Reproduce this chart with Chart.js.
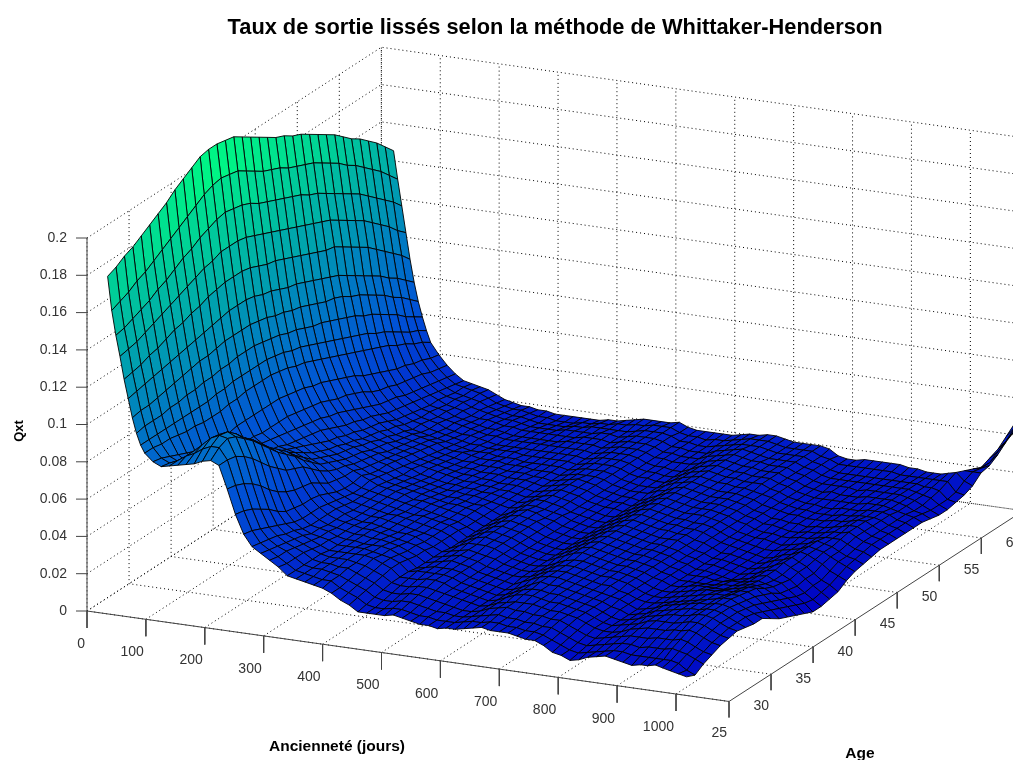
<!DOCTYPE html>
<html>
<head>
<meta charset="utf-8">
<title>Taux de sortie</title>
<script src="https://cdn.jsdelivr.net/npm/chart.js@4"></script>
<style>
  html, body { margin: 0; background: #fff; }
  canvas { display: block; }
</style>
</head>
<body>
<canvas id="surface" width="1013" height="760"></canvas>
<script>
const titleText = 'Taux de sortie lissés selon la méthode de Whittaker-Henderson';
const xTicks = [0, 100, 200, 300, 400, 500, 600, 700, 800, 900, 1000];
const ageTicks = [25, 30, 35, 40, 45, 50, 55, 60];
const zTicks = [0, 0.02, 0.04, 0.06, 0.08, 0.1, 0.12, 0.14, 0.16, 0.18, 0.2];
const xMax = 1090;
const ageMax = 60;
const zMax = 0.2;

// anciennete of each row of qxtMilli, ages are one year apart starting at 25
const anciennete = [35, 42, 49, 56, 63, 70, 77, 84, 91, 98, 112, 126, 140, 154, 168, 182, 196, 210, 224, 238, 252, 266, 280,
  295, 310, 325, 340, 355, 370, 385, 400, 415, 430, 445, 460, 475, 490, 505, 520, 535, 550, 565, 580, 595, 610, 625, 640, 655,
  670, 685, 700, 715, 730, 745, 760, 775, 790, 805, 820, 835, 850, 865, 880, 895, 910, 925, 940, 952, 965, 977, 990, 1004, 1018];
const firstAge = 25;

// Qxt x 1000
const qxtMilli = [
  [181,183,186,188,191,194,197,200,204,207,210,213,214,214,213,212,209,206,203,200,197,195,192,190,187,184,181,178,174,170,167,163,159,154,149],
  [163,165,167,170,172,175,178,181,184,187,190,193,195,196,195,194,191,188,185,183,181,178,176,174,172,169,166,163,159,156,152,148,144,139,134],
  [150,151,153,155,157,160,162,165,168,170,173,175,177,178,177,176,174,171,169,167,165,163,161,158,156,153,150,147,144,141,137,133,129,125,120],
  [139,140,141,143,145,147,149,151,153,155,157,158,160,160,160,159,157,155,153,151,149,147,145,143,141,139,136,133,130,127,123,119,115,110,106],
  [127,128,129,131,132,134,136,137,139,140,142,143,144,144,144,143,141,139,138,136,134,132,130,128,126,125,122,119,116,113,109,105,101,97,92],
  [117,118,119,120,121,122,123,124,125,126,127,128,129,129,129,128,126,125,123,121,120,118,116,114,112,110,107,104,101,98,95,91,88,84,80],
  [107,108,108,109,110,111,112,113,114,114,115,116,116,116,116,115,114,112,111,109,108,106,104,102,101,99,96,94,91,88,85,81,78,74,70],
  [99,100,100,100,101,101,102,102,103,103,104,104,105,105,105,104,103,102,100,99,97,95,94,92,90,88,86,83,81,78,75,72,68,65,62],
  [93,93,93,93,93,93,93,93,93,94,94,95,95,95,95,95,94,93,91,90,88,86,84,82,80,78,76,74,71,69,66,63,60,58,55],
  [89,89,88,88,87,86,86,85,85,85,86,86,87,87,87,87,86,85,83,82,80,78,76,74,72,70,68,66,64,62,59,57,54,52,49],
  [85,84,82,80,78,76,74,74,74,74,75,75,75,75,75,75,74,73,72,70,69,67,65,63,61,58,56,54,52,50,49,47,46,44,43],
  [83,82,80,77,74,72,70,69,68,67,67,67,66,66,66,66,65,64,63,62,60,58,57,55,53,50,48,47,45,44,43,42,40,39,38],
  [84,84,83,80,77,75,73,70,68,66,65,64,63,62,61,60,59,58,57,55,54,52,50,48,46,44,43,42,40,39,38,37,36,35,34],
  [85,87,87,85,82,79,75,72,69,66,63,61,60,58,57,56,55,54,52,50,48,47,45,44,42,40,39,38,37,36,35,34,33,32,31],
  [86,89,91,89,86,82,78,74,70,67,64,61,59,57,55,53,51,49,48,46,45,43,42,41,39,37,36,35,34,33,33,32,31,31,30],
  [87,92,95,94,90,85,81,76,72,68,64,61,58,55,52,50,48,47,45,44,42,41,40,38,37,35,34,33,33,32,31,31,30,30,29],
  [89,94,97,96,92,87,83,78,73,69,65,60,56,52,50,48,46,45,44,42,41,39,38,36,35,33,33,32,31,31,30,30,29,29,28],
  [90,94,96,94,90,86,81,76,71,67,63,58,54,50,48,46,44,43,42,40,39,38,36,35,34,32,31,31,30,29,29,28,28,27,26],
  [88,88,87,84,80,75,70,66,62,60,58,54,50,47,45,44,42,41,40,39,37,36,35,34,33,31,30,29,29,28,27,27,26,25,24],
  [76,75,73,70,66,61,57,54,52,51,50,47,44,43,42,42,40,39,38,37,36,35,34,33,32,30,29,28,28,27,26,26,25,24,23],
  [63,62,60,57,54,50,47,46,45,45,44,42,40,39,39,40,38,37,37,36,35,34,33,32,31,29,28,27,27,26,26,25,24,23,22],
  [53,52,50,48,46,44,42,41,41,41,40,39,38,37,37,38,37,36,35,34,33,32,31,30,29,28,27,27,26,25,25,24,23,23,22],
  [47,46,45,44,42,41,39,38,38,38,38,37,36,36,36,36,35,34,33,33,32,31,30,29,28,27,26,26,25,25,24,24,23,22,21],
  [44,43,42,41,40,39,37,37,36,36,36,35,35,35,35,35,34,33,32,31,31,30,29,28,28,26,26,25,25,24,24,23,22,21,21],
  [41,40,40,39,38,37,36,36,35,35,34,34,34,34,34,34,33,32,31,30,30,29,28,27,27,26,25,24,24,23,23,22,21,21,20],
  [38,37,37,37,36,35,35,34,34,34,33,33,33,33,33,33,32,31,30,29,29,28,27,27,26,26,25,24,24,23,23,22,21,20,20],
  [34,34,34,34,34,33,33,33,33,33,33,33,32,32,32,31,31,30,29,28,28,27,27,26,26,25,25,24,24,23,23,22,21,20,20],
  [33,33,33,33,33,33,33,33,33,33,32,32,32,31,31,31,30,29,28,28,27,27,26,26,26,25,25,24,24,23,23,22,21,20,20],
  [32,32,33,33,33,33,33,32,32,32,31,31,31,30,30,30,29,28,28,27,27,26,26,26,25,25,24,24,24,23,23,23,22,21,20],
  [31,31,32,32,33,33,33,32,32,31,30,30,30,30,29,29,28,28,27,27,26,26,26,25,25,24,24,24,24,23,23,23,22,21,20],
  [30,31,31,32,32,33,32,32,31,30,30,29,29,29,28,28,28,27,27,26,26,25,25,25,25,24,24,24,24,24,23,23,23,22,21],
  [28,28,29,30,31,32,31,31,30,29,29,28,28,28,27,27,27,26,26,26,25,25,25,25,24,24,24,24,24,24,24,23,23,22,21],
  [25,26,27,28,29,30,30,29,28,28,27,27,27,27,26,26,26,26,25,25,25,25,25,24,24,24,24,24,24,24,24,24,23,23,22],
  [23,24,25,26,27,28,28,27,26,26,25,25,25,25,24,24,24,24,24,24,24,24,24,24,24,24,24,24,24,24,24,24,23,23,23],
  [20,21,22,23,24,24,24,23,23,23,23,22,22,22,22,22,22,22,23,23,23,23,23,23,23,23,23,23,23,23,23,23,23,24,24],
  [20,20,21,22,23,24,25,24,24,24,24,24,24,24,24,24,24,24,24,24,24,24,24,24,24,24,24,24,24,24,24,24,24,24,24],
  [20,20,21,22,23,24,25,25,25,25,25,26,26,26,26,26,26,26,26,26,25,25,25,25,25,25,25,25,25,25,25,25,25,25,24],
  [20,21,22,23,24,25,25,25,26,26,26,26,27,27,27,27,27,27,26,26,26,26,26,26,25,25,25,25,25,25,25,25,25,25,24],
  [21,21,22,23,24,25,25,25,25,25,25,26,26,26,26,26,26,26,25,25,25,25,25,25,25,25,25,25,25,25,25,25,25,25,25],
  [20,20,21,22,23,24,24,24,24,24,24,25,25,25,25,25,25,24,24,24,24,24,24,24,24,24,24,24,24,24,24,24,24,23,23],
  [19,19,20,21,22,22,22,22,22,22,23,23,23,23,23,23,23,23,23,22,22,22,22,22,22,22,22,22,22,22,22,22,22,22,22],
  [18,19,19,20,21,21,21,21,21,21,21,21,21,21,21,21,21,21,21,21,21,21,21,21,21,21,21,21,21,22,22,22,22,22,22],
  [18,18,19,19,20,20,20,20,20,20,20,20,20,20,20,20,20,20,20,20,20,20,20,20,20,20,21,21,21,21,21,21,21,21,22],
  [17,18,18,18,19,19,19,19,19,19,19,19,19,19,19,19,19,19,19,19,19,20,20,20,20,20,20,20,20,21,21,21,21,22,22],
  [18,18,18,18,18,18,18,18,18,19,19,19,19,19,19,19,19,19,19,19,19,19,19,19,20,20,20,20,20,21,21,21,22,22,22],
  [18,19,19,19,19,19,19,19,20,20,20,20,21,21,21,21,21,21,21,21,21,21,21,21,22,22,22,22,22,22,23,23,23,23,23],
  [19,20,20,21,21,21,21,21,22,22,22,22,23,23,23,23,23,23,23,23,23,23,23,23,23,24,24,24,24,24,24,24,24,24,24],
  [20,20,21,22,22,23,23,23,24,24,24,24,25,25,25,25,25,25,25,25,25,25,25,25,25,25,25,25,25,25,25,25,25,25,24],
  [21,21,22,23,23,24,24,25,25,25,25,25,26,26,26,26,26,26,26,26,26,26,26,26,26,26,26,26,26,26,26,26,25,25,25],
  [20,21,21,22,23,24,24,24,25,25,25,25,25,25,25,25,25,25,25,25,25,25,25,25,25,25,25,25,25,25,25,25,25,25,25],
  [20,20,21,22,23,23,23,24,24,24,24,24,24,24,24,24,24,24,24,24,24,24,24,24,24,24,24,24,24,24,24,24,24,24,24],
  [20,20,20,21,22,22,23,23,23,23,23,23,23,23,23,23,23,23,23,23,23,23,23,23,23,23,24,24,24,24,24,23,23,23,23],
  [19,19,20,21,21,22,22,22,22,22,22,22,22,22,22,22,22,22,23,23,23,23,23,23,23,23,23,23,23,23,23,23,23,23,23],
  [18,19,19,20,21,21,21,21,21,21,22,22,22,22,22,22,22,22,22,22,22,23,23,23,23,23,23,23,23,23,23,23,23,23,23],
  [18,18,19,20,20,20,20,20,20,21,21,21,21,21,21,21,21,22,22,22,22,22,22,22,22,22,22,23,23,23,23,23,23,23,23],
  [16,16,17,18,19,19,19,19,19,19,20,20,20,20,20,20,20,20,20,21,21,21,21,21,21,21,21,21,21,21,21,21,21,21,22],
  [13,14,15,16,17,17,17,17,18,18,18,18,18,18,18,18,18,18,19,19,19,19,19,19,19,19,20,20,20,20,20,20,20,20,19],
  [12,12,13,14,15,15,15,16,16,16,16,16,17,17,17,17,17,17,17,17,17,17,18,18,18,18,18,18,18,18,18,18,18,18,18],
  [10,11,12,13,14,14,14,14,14,15,15,15,15,15,15,15,15,15,15,16,16,16,16,16,16,17,17,17,17,17,17,17,17,18,18],
  [11,12,13,14,14,15,15,15,15,15,15,15,15,15,15,15,15,15,15,15,15,15,15,16,16,16,16,16,16,16,17,17,17,18,19],
  [13,13,14,15,15,16,16,16,16,16,16,16,16,15,15,14,14,14,14,14,14,15,15,15,15,16,16,16,16,17,17,17,17,18,19],
  [14,14,15,16,17,17,18,18,18,17,17,17,17,15,14,13,13,13,13,13,13,14,14,14,15,15,15,15,16,16,17,17,17,18,19],
  [15,15,16,17,18,19,19,19,19,18,18,18,17,15,14,12,12,12,12,12,13,13,14,14,14,15,15,15,16,16,16,17,17,18,19],
  [14,15,16,17,19,20,20,20,20,19,19,19,17,16,15,13,13,13,13,13,14,14,15,15,15,15,15,16,16,16,17,17,17,18,19],
  [13,14,15,17,19,20,21,21,21,20,20,19,17,16,15,14,14,14,15,15,15,15,15,15,15,16,16,16,16,17,17,17,17,17,18],
  [12,14,16,18,19,20,21,22,22,21,21,20,18,17,16,16,16,16,16,16,16,16,16,16,16,16,16,16,17,17,17,17,17,17,18],
  [13,14,16,18,20,21,22,22,22,22,21,20,19,18,17,17,17,18,18,18,18,18,17,17,17,17,17,17,17,17,17,17,17,17,17],
  [13,14,16,18,20,22,23,23,23,23,22,21,20,18,16,15,15,16,16,17,17,17,17,17,18,18,17,17,17,17,17,17,17,17,17],
  [14,14,17,19,21,22,23,23,23,23,22,21,20,17,15,14,13,14,14,15,16,16,17,18,18,18,17,17,16,16,16,16,16,17,17],
  [13,14,16,18,20,21,22,22,22,21,20,19,17,15,12,11,10,11,11,13,14,14,15,16,16,16,16,16,15,15,15,15,16,17,18],
  [12,13,15,16,18,19,20,20,20,19,18,16,14,12,10,8,7,8,8,10,12,12,13,14,14,14,14,14,14,13,13,14,15,17,19,17,15,13,15,17,21,25],
  [11,10,13,14,16,17,18,18,18,17,15,13,11,9,7,5,4,5,6,8,10,11,12,13,13,13,13,13,13,12,11,11,11,12,15,17,16,16,19,22,26,29],
  [10,8,11,13,15,16,17,16,15,15,12,9,7,5,3,1,1,2,3,6,8,9,10,11,11,11,11,11,11,10,9,9,10,11,13,17,18,21,25,28,31,33]
];

// axes of the box as seen in the picture: pixels per day, per year, per unit of Qxt
function project(x, age, z) {
  return {
    x: 87 + 0.589 * x + 8.41 * (age - firstAge),
    y: 611 + 0.083 * x - 5.45 * (age - firstAge) - 1865 * z
  };
}

function lineSet(points, color, dash) {
  return {
    data: points,
    showLine: true,
    fill: false,
    borderColor: color,
    borderWidth: 1,
    borderDash: dash || [],
    pointRadius: 0
  };
}

// winter colormap, deeper near the floor where the original mesh is denser
function winter(z) {
  const t = Math.min(1, z / 0.214);
  const deep = 0.76 + 0.24 * Math.min(1, z / 0.07);
  return 'rgb(0,' + Math.round(255 * t) + ',' + Math.round((255 - 127 * t) * deep) + ')';
}

const datasets = [];

// first dataset is painted last, so nearest cell (old anciennete, young age) goes first
for (let j = 0; j < 41; j++) {
  for (let i = anciennete.length - 2; i >= 0; i--) {
    const row = qxtMilli[i], next = qxtMilli[i + 1];
    if (row[j + 1] === undefined || next[j + 1] === undefined) continue;
    const corners = [[i, j], [i + 1, j], [i + 1, j + 1], [i, j + 1], [i, j]];
    const points = corners.map(c => project(anciennete[c[0]], firstAge + c[1], qxtMilli[c[0]][c[1]] / 1000));
    datasets.push({
      data: points,
      showLine: true,
      fill: 'shape',
      backgroundColor: winter((row[j] + next[j] + row[j + 1] + next[j + 1]) / 4000),
      borderColor: '#000',
      borderWidth: 0.9,
      pointRadius: 0
    });
  }
}

// axis lines and tick marks
const axisColor = '#444';
datasets.push(lineSet([project(0, firstAge, 0), project(0, firstAge, zMax)], axisColor));
datasets.push(lineSet([project(0, firstAge, 0), project(xMax, firstAge, 0)], axisColor));
datasets.push(lineSet([project(xMax, firstAge, 0), project(xMax, 70, 0)], axisColor));
zTicks.forEach(z => {
  const p = project(0, firstAge, z);
  datasets.push(lineSet([p, { x: p.x - 11, y: p.y }], axisColor));
});
xTicks.forEach(x => {
  const p = project(x, firstAge, 0);
  datasets.push(lineSet([p, { x: p.x, y: p.y + 17 }], axisColor));
});
ageTicks.forEach(a => {
  const p = project(xMax, a, 0);
  datasets.push(lineSet([p, { x: p.x, y: p.y + 16 }], axisColor));
});

// dotted grid on floor and walls
const gridColor = '#000';
const dots = [1, 3];
xTicks.forEach(x => {
  datasets.push(lineSet([project(x, firstAge, 0), project(x, ageMax, 0), project(x, ageMax, zMax)], gridColor, dots));
});
ageTicks.forEach(a => {
  datasets.push(lineSet([project(xMax, a, 0), project(0, a, 0), project(0, a, zMax)], gridColor, dots));
});
zTicks.forEach(z => {
  datasets.push(lineSet([project(0, firstAge, z), project(0, ageMax, z), project(xMax, ageMax, z)], gridColor, dots));
});

const labelsPlugin = {
  id: 'labels3d',
  afterDraw(chart) {
    const ctx = chart.ctx;
    ctx.save();
    ctx.fillStyle = '#000';
    ctx.textBaseline = 'middle';
    ctx.textAlign = 'center';
    ctx.font = 'bold 21.8px "Liberation Sans", Arial, sans-serif';
    ctx.fillText(titleText, 555, 28);
    ctx.font = 'bold 15.5px "Liberation Sans", Arial, sans-serif';
    ctx.fillText('Ancienneté (jours)', 337, 747);
    ctx.fillText('Age', 860, 754);
    ctx.save();
    ctx.translate(19, 431);
    ctx.font = 'bold 13px "Liberation Sans", Arial, sans-serif';
    ctx.rotate(-Math.PI / 2);
    ctx.fillText('Qxt', 0, 0);
    ctx.restore();

    ctx.fillStyle = '#333';
    ctx.font = '14px "Liberation Sans", Arial, sans-serif';
    ctx.textAlign = 'right';
    zTicks.forEach(z => {
      const p = project(0, firstAge, z);
      ctx.fillText(String(z), p.x - 20, p.y);
    });
    xTicks.forEach(x => {
      const p = project(x, firstAge, 0);
      ctx.fillText(String(x), p.x - 2, p.y + 33);
    });
    ageTicks.forEach(a => {
      const p = project(xMax, a, 0);
      ctx.fillText(String(a), p.x - 2, p.y + 32);
    });
    ctx.restore();
  }
};

new Chart(document.getElementById('surface').getContext('2d'), {
  type: 'scatter',
  data: { datasets: datasets },
  options: {
    responsive: false,
    animation: false,
    events: [],
    layout: { padding: 0 },
    plugins: {
      legend: { display: false },
      tooltip: { enabled: false }
    },
    scales: {
      x: { type: 'linear', min: 0, max: 1013, display: false },
      y: { type: 'linear', min: 0, max: 760, reverse: true, display: false }
    }
  },
  plugins: [labelsPlugin]
});
</script>
</body>
</html>
